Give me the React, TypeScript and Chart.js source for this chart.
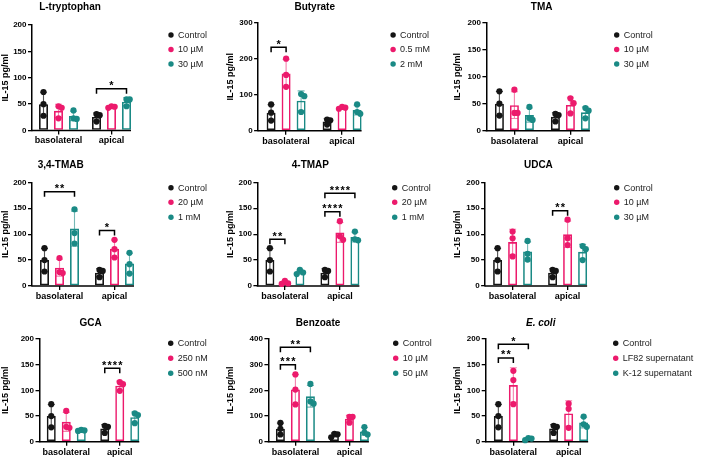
import React, { useEffect, useRef } from 'react';
import { Chart, registerables } from 'chart.js';

Chart.register(...registerables);

const FONT = '"Liberation Sans", Arial, Helvetica, sans-serif';
Chart.defaults.font.family = FONT;
Chart.defaults.color = '#000';

// ---------- shared data ----------
const GROUPS = ['basolateral', 'apical'];
const Y_TITLE = 'IL-15 pg/ml';

const ctrlMean = [50, 25.7];
const ctrlSD = [22.5, 7.6];
const ctrlPoints = [[73, 50, 28], [31, 29, 17]];

// ---------- L-tryptophan ----------
const trpTitle = 'L-tryptophan';
const trpLegend = ['Control', '10 µM', '30 µM'];
const trpMeans = [ctrlMean, [37.3, 44.7], [27.7, 54.7]];
const trpSD = [ctrlSD, [12.5, 1.5], [8.9, 7.5]];
const trpPoints = [ctrlPoints, [[46, 43, 23], [46, 45, 43]], [[38, 23, 22], [59, 59, 46]]];
const trpSig = [{ group: 1, from: 0, to: 2, y: 79, stars: '*' }];
const trpTicks = [200, 50];

// ---------- Butyrate ----------
const butTitle = 'Butyrate';
const butLegend = ['Control', '0.5 mM', '2 mM'];
const butMeans = [ctrlMean, [159, 63.7], [83.3, 57.3]];
const butSD = [ctrlSD, [39, 2.5], [27.3, 13.8]];
const butPoints = [ctrlPoints, [[200, 155, 122], [66, 64, 61]], [[102, 96, 52], [73, 52, 47]]];
const butSig = [{ group: 0, from: 0, to: 1, y: 232, stars: '*' }];
const butTicks = [300, 100];

// ---------- TMA ----------
const tmaTitle = 'TMA';
const tmaLegend = ['Control', '10 µM', '30 µM'];
const tmaMeans = [ctrlMean, [47.3, 47.7], [29, 34]];
const tmaSD = [ctrlSD, [24.8, 14.3], [13.1, 9.8]];
const tmaPoints = [ctrlPoints, [[76, 33, 33], [60, 51, 32]], [[44, 23, 20], [42, 37, 23]]];
const tmaSig: Sig[] = [];
const tmaTicks = [200, 50];

// ---------- 3,4-TMAB ----------
const tmabTitle = '3,4-TMAB';
const tmabLegend = ['Control', '20 µM', '1 mM'];
const tmabMeans = [ctrlMean, [35.3, 71.7], [110.7, 43.3]];
const tmabSD = [ctrlSD, [16.2, 17], [33.8, 20]];
const tmabPoints = [ctrlPoints, [[54, 27, 25], [89, 71, 55]], [[148, 102, 82], [64, 42, 24]]];
const tmabSig = [
  { group: 0, from: 0, to: 2, y: 182, stars: '**' },
  { group: 1, from: 0, to: 1, y: 107, stars: '*' },
];
const tmabTicks = [200, 50];

// ---------- 4-TMAP ----------
const tmapTitle = '4-TMAP';
const tmapLegend = ['Control', '20 µM', '1 mM'];
const tmapMeans = [ctrlMean, [6.3, 103.3], [26.7, 94.3]];
const tmapSD = [ctrlSD, [3.2, 19.1], [4, 9.3]];
const tmapPoints = [ctrlPoints, [[10, 5, 4], [125, 96, 89]], [[31, 26, 23], [105, 90, 88]]];
const tmapSig = [
  { group: 0, from: 0, to: 1, y: 90, stars: '**' },
  { group: 1, from: 0, to: 1, y: 143, stars: '****' },
  { group: 1, from: 0, to: 2, y: 179, stars: '****' },
];
const tmapTicks = [200, 50];

// ---------- UDCA ----------
const udcaTitle = 'UDCA';
const udcaLegend = ['Control', '10 µM', '30 µM'];
const udcaMeans = [ctrlMean, [84.7, 99.7], [66.7, 66]];
const udcaSD = [ctrlSD, [24.8, 25.4], [18.4, 14.2]];
const udcaPoints = [ctrlPoints, [[105, 92, 57], [128, 92, 79]], [[87, 62, 51], [77, 71, 50]]];
const udcaSig = [{ group: 1, from: 0, to: 1, y: 145, stars: '**' }];
const udcaTicks = [200, 50];

// ---------- GCA ----------
const gcaTitle = 'GCA';
const gcaLegend = ['Control', '250 nM', '500 nM'];
const gcaMeans = [ctrlMean, [38.7, 109], [22, 47.7]];
const gcaSD = [ctrlSD, [18.5, 8.9], [1, 10.2]];
const gcaPoints = [ctrlPoints, [[60, 29, 27], [116, 112, 99]], [[23, 22, 21], [55, 52, 36]]];
const gcaSig = [{ group: 1, from: 0, to: 1, y: 143, stars: '****' }];
const gcaTicks = [200, 50];

// ---------- Benzoate ----------
const benTitle = 'Benzoate';
const benLegend = ['Control', '10 µM', '50 µM'];
const benMeans = [ctrlMean, [203.3, 89.3], [176.7, 40]];
const benSD = [ctrlSD, [58.5, 13.3], [42.1, 15.1]];
const benPoints = [ctrlPoints, [[262, 203, 145], [97, 97, 74]], [[225, 157, 148], [57, 35, 28]]];
const benSig = [
  { group: 0, from: 0, to: 1, y: 300, stars: '***' },
  { group: 0, from: 0, to: 2, y: 368, stars: '**' },
];
const benTicks = [400, 100];

// ---------- E. coli ----------
const ecoTitle = 'E. coli';
const ecoLegend = ['Control', 'LF82 supernatant', 'K-12 supernatant'];
const ecoMeans = [ctrlMean, [110.3, 55], [5.3, 37.3]];
const ecoSD = [ctrlSD, [33.6, 24.8], [2.1, 10.4]];
const ecoPoints = [ctrlPoints, [[138, 120, 73], [74, 64, 27]], [[7, 6, 3], [49, 34, 29]]];
const ecoSig = [
  { group: 0, from: 0, to: 1, y: 163, stars: '**' },
  { group: 0, from: 0, to: 2, y: 190, stars: '*' },
];
const ecoTicks = [200, 50];

type Sig = { group: number; from: number; to: number; y: number; stars: string };
type PanelData = {
  title: string; italic?: boolean; legend: string[]; means: number[][]; sd: number[][];
  points: number[][][]; sig: Sig[]; ticks: number[];
};

const PANELS: PanelData[] = [
  { title: trpTitle, legend: trpLegend, means: trpMeans, sd: trpSD, points: trpPoints, sig: trpSig, ticks: trpTicks },
  { title: butTitle, legend: butLegend, means: butMeans, sd: butSD, points: butPoints, sig: butSig, ticks: butTicks },
  { title: tmaTitle, legend: tmaLegend, means: tmaMeans, sd: tmaSD, points: tmaPoints, sig: tmaSig, ticks: tmaTicks },
  { title: tmabTitle, legend: tmabLegend, means: tmabMeans, sd: tmabSD, points: tmabPoints, sig: tmabSig, ticks: tmabTicks },
  { title: tmapTitle, legend: tmapLegend, means: tmapMeans, sd: tmapSD, points: tmapPoints, sig: tmapSig, ticks: tmapTicks },
  { title: udcaTitle, legend: udcaLegend, means: udcaMeans, sd: udcaSD, points: udcaPoints, sig: udcaSig, ticks: udcaTicks },
  { title: gcaTitle, legend: gcaLegend, means: gcaMeans, sd: gcaSD, points: gcaPoints, sig: gcaSig, ticks: gcaTicks },
  { title: benTitle, legend: benLegend, means: benMeans, sd: benSD, points: benPoints, sig: benSig, ticks: benTicks },
  { title: ecoTitle, italic: true, legend: ecoLegend, means: ecoMeans, sd: ecoSD, points: ecoPoints, sig: ecoSig, ticks: ecoTicks },
];

// ---------- layout (page coordinates) ----------
type Geom = {
  left: number; top: number; width: number; height: number;
  axisX: number; yTop: number; y0: number; cat: number;
  titleX: number; titleY: number; legX: number; legY: number[];
};
const ROW_A = { top: 0, height: 150, yTop: 25, y0: 130.5, titleY: 7, legY: [35, 49.5, 64] };
const ROW_B = { top: 150, height: 155, yTop: 182.3, y0: 286, titleY: 165.7, legY: [187.7, 202.3, 217.3] };
const ROW_C = { top: 305, height: 152, yTop: 339, y0: 441.7, titleY: 323.3, legY: [343.3, 358.3, 373.3] };
const COL_A = { left: 0, width: 236 };
const COL_B = { left: 224.6, width: 245 };
const COL_C = { left: 451.6, width: 257 };

const GEOMS: Geom[] = [
  { ...COL_A, ...ROW_A, axisX: 32, cat: 53, titleX: 70, legX: 171 },
  { ...COL_B, ...ROW_A, yTop: 22.7, y0: 130.7, axisX: 257.7, cat: 56, titleX: 314.3, legX: 392.7 },
  { ...COL_C, ...ROW_A, yTop: 22.7, y0: 130.7, axisX: 486, cat: 56, titleX: 541.3, legX: 616.3 },
  { ...COL_A, ...ROW_B, axisX: 32, cat: 55, titleX: 60.7, legX: 171 },
  { ...COL_B, ...ROW_B, axisX: 257, cat: 55, titleX: 310, legX: 394.3 },
  { ...COL_C, ...ROW_B, axisX: 484.7, cat: 55, titleX: 538, legX: 616.3 },
  { ...COL_A, ...ROW_C, axisX: 39.5, cat: 53.5, titleX: 90.7, legX: 170.7 },
  { ...COL_B, ...ROW_C, axisX: 268, cat: 54, titleX: 317.7, legX: 395.3 },
  { ...COL_C, ...ROW_C, axisX: 485.3, cat: 55.3, titleX: 540.3, legX: 615.3 },
];

const COLORS = ['#151515', '#EC1A6C', '#1A8A85'];
const ERR_COLORS = ['rgba(40,40,40,0.8)', 'rgba(236,26,108,0.55)', 'rgba(26,138,133,0.6)'];
const POINT_R = 3.1;

function swarm(ys: number[], r: number): number[] {
  const order = ys.map((_, i) => i).sort((a, b) => ys[a] - ys[b]);
  const offs = new Array(ys.length).fill(0);
  const placed: number[] = [];
  const cands = [0, 3.2, -3.2];
  for (const i of order) {
    let best = 0;
    let bestD = -1;
    for (const c of cands) {
      let d = Infinity;
      for (const j of placed) d = Math.min(d, Math.hypot(c - offs[j], ys[i] - ys[j]));
      if (d >= 2 * r * 0.8) { best = c; bestD = d; break; }
      if (d > bestD) { bestD = d; best = c; }
    }
    offs[i] = best;
    placed.push(i);
  }
  return offs;
}

function Panel({ p, g }: { p: PanelData; g: Geom }) {
  const ref = useRef<HTMLCanvasElement>(null);
  useEffect(() => {
    const canvas = ref.current;
    if (!canvas) return;
    const decor = {
      id: 'decor',
      afterDatasetsDraw(chart: any) {
        const ctx: CanvasRenderingContext2D = chart.ctx;
        const ys = chart.scales.y;
        const area = chart.chartArea;
        ctx.save();
        // x axis line up to the last bar edge
        const lastMeta = chart.getDatasetMeta(p.means.length - 1);
        const lastBar: any = lastMeta.data[lastMeta.data.length - 1];
        ctx.strokeStyle = '#000';
        ctx.lineWidth = 1.5;
        ctx.beginPath();
        ctx.moveTo(area.left - 0.75, area.bottom);
        ctx.lineTo(lastBar.x + lastBar.width / 2, area.bottom);
        ctx.stroke();
        // error bars + points
        p.means.forEach((row, i) => {
          const meta = chart.getDatasetMeta(i);
          meta.data.forEach((bar: any, j: number) => {
            const m = row[j];
            const s = p.sd[i][j];
            const yHi = ys.getPixelForValue(m + s);
            const yLo = ys.getPixelForValue(Math.max(0, m - s));
            ctx.strokeStyle = ERR_COLORS[i];
            ctx.lineWidth = 1.1;
            ctx.beginPath();
            ctx.moveTo(bar.x, yLo);
            ctx.lineTo(bar.x, yHi);
            ctx.moveTo(bar.x - 3.5, yHi);
            ctx.lineTo(bar.x + 3.5, yHi);
            ctx.moveTo(bar.x - 3.5, yLo);
            ctx.lineTo(bar.x + 3.5, yLo);
            ctx.stroke();
            const pys = p.points[i][j].map((v) => ys.getPixelForValue(v));
            const offs = swarm(pys, POINT_R);
            ctx.fillStyle = COLORS[i];
            pys.forEach((py, k) => {
              ctx.beginPath();
              ctx.arc(bar.x + offs[k], py, POINT_R, 0, Math.PI * 2);
              ctx.fill();
            });
          });
        });
        // significance brackets
        ctx.strokeStyle = '#000';
        ctx.fillStyle = '#000';
        ctx.lineWidth = 1.5;
        p.sig.forEach((s) => {
          const b1: any = chart.getDatasetMeta(s.from).data[s.group];
          const b2: any = chart.getDatasetMeta(s.to).data[s.group];
          const yb = ys.getPixelForValue(s.y);
          ctx.beginPath();
          ctx.moveTo(b1.x, yb + 5);
          ctx.lineTo(b1.x, yb);
          ctx.lineTo(b2.x, yb);
          ctx.lineTo(b2.x, yb + 5);
          ctx.stroke();
          ctx.font = `bold 11px ${FONT}`;
          ctx.textAlign = 'center';
          ctx.textBaseline = 'alphabetic';
          const n = s.stars.length;
          const step = 5.4;
          const cx = (b1.x + b2.x) / 2;
          for (let k = 0; k < n; k++) {
            ctx.fillText('*', cx + (k - (n - 1) / 2) * step, yb + 0.5);
          }
        });
        ctx.restore();
      },
      afterDraw(chart: any) {
        const ctx: CanvasRenderingContext2D = chart.ctx;
        ctx.save();
        // title
        ctx.fillStyle = '#000';
        ctx.font = `${p.italic ? 'italic ' : ''}bold 10px ${FONT}`;
        ctx.textAlign = 'center';
        ctx.textBaseline = 'middle';
        ctx.fillText(p.title, g.titleX - g.left, g.titleY - g.top);
        // legend
        ctx.font = `9px ${FONT}`;
        ctx.textAlign = 'left';
        p.legend.forEach((lab, i) => {
          const ly = g.legY[i] - g.top;
          const lx = g.legX - g.left;
          ctx.fillStyle = COLORS[i];
          ctx.beginPath();
          ctx.arc(lx, ly, 2.7, 0, Math.PI * 2);
          ctx.fill();
          ctx.fillStyle = '#222';
          ctx.fillText(lab, lx + 7, ly + 0.5);
        });
        ctx.restore();
      },
    };

    const datasets = p.legend.map((lab, i) => ({
      label: lab,
      data: p.means[i],
      borderColor: COLORS[i],
      backgroundColor: 'rgba(255,255,255,0)',
      borderWidth: 1.6,
      borderSkipped: false as const,
      categoryPercentage: 45 / g.cat,
      barPercentage: 0.6,
    }));

    const chart = new Chart(canvas, {
      type: 'bar',
      data: { labels: GROUPS, datasets },
      options: {
        responsive: false,
        animation: false,
        devicePixelRatio: 1,
        events: [],
        layout: {
          padding: {
            left: 0,
            top: g.yTop - g.top,
            right: g.left + g.width - (g.axisX + 2 * g.cat),
            bottom: 0,
          },
        },
        plugins: {
          legend: { display: false },
          title: { display: false },
          tooltip: { enabled: false },
        },
        scales: {
          x: {
            type: 'category',
            offset: true,
            border: { display: false },
            grid: {
              display: true, offset: false, drawOnChartArea: false, drawTicks: true,
              tickLength: 4, color: '#000', lineWidth: 1.3,
            },
            ticks: { font: { size: 9, weight: 'bold' }, color: '#000', padding: 1, maxRotation: 0, autoSkip: false },
            afterFit: (s: any) => { s.height = g.top + g.height - g.y0; },
          },
          y: {
            min: 0,
            max: p.ticks[0],
            border: { display: true, color: '#000', width: 1.5 },
            grid: {
              display: true, drawOnChartArea: false, drawTicks: true,
              tickLength: 4, color: '#000', lineWidth: 1.3,
            },
            ticks: { stepSize: p.ticks[1], font: { size: 8, weight: 'bold' }, color: '#000', padding: 1.5 },
            title: {
              display: true, text: Y_TITLE, color: '#000',
              font: { size: 9, weight: 'bold' }, padding: 0,
            },
            afterFit: (s: any) => { s.width = g.axisX - g.left; },
          },
        },
      } as any,
      plugins: [decor],
    });
    return () => chart.destroy();
  }, [p, g]);
  return (
    <canvas
      ref={ref}
      width={Math.round(g.width)}
      height={g.height}
      style={{ position: 'absolute', left: g.left, top: g.top, width: Math.round(g.width), height: g.height }}
    />
  );
}

export default function App() {
  return (
    <div style={{ position: 'absolute', left: 0, top: 0, width: 709, height: 457, background: '#fff', overflow: 'hidden' }}>
      {PANELS.map((p, i) => (
        <Panel key={i} p={p} g={GEOMS[i]} />
      ))}
    </div>
  );
}
